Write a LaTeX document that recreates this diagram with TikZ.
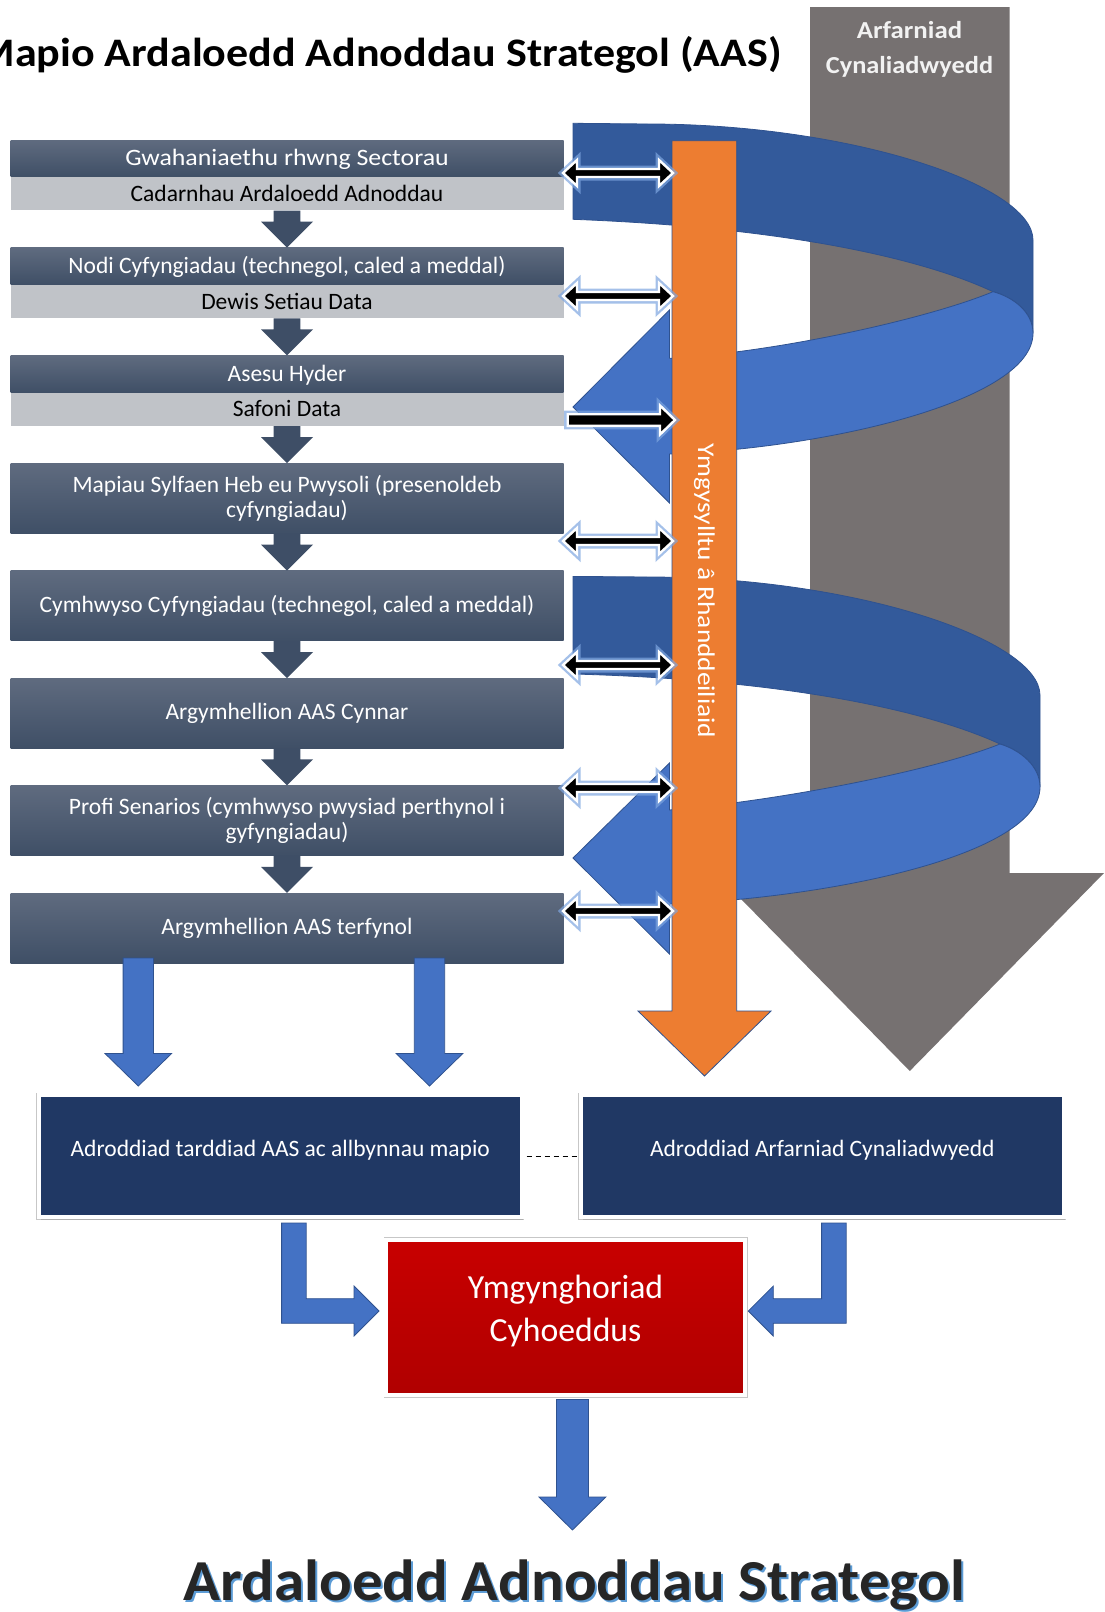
\documentclass[tikz,border=0pt]{standalone}
\usepackage{fontspec}
\setmainfont{Carlito}
\usetikzlibrary{calc,positioning,shadows}

\definecolor{slate}{HTML}{3F4F66}
\definecolor{slatetop}{HTML}{5F6B7F}
\definecolor{paleslate}{HTML}{C0C3C8}
\definecolor{stepblue}{HTML}{3E4E66}
\definecolor{ribbonback}{HTML}{335A9B}
\definecolor{ribbonfront}{HTML}{4472C4}
\definecolor{ribbonline}{HTML}{2F528F}
\definecolor{engage}{HTML}{ED7D31}
\definecolor{appraisal}{HTML}{767171}
\definecolor{navy}{HTML}{203864}
\definecolor{consultred}{HTML}{C80000}
\definecolor{consultdark}{HTML}{B00000}
\definecolor{glow}{HTML}{7EA6E0}
\definecolor{titlegrey}{HTML}{262626}
\definecolor{shadowblue}{HTML}{5B9BD5}

\def\stepfont{\fontsize{23.5}{25}\selectfont}
\def\mapfont{\bfseries\fontsize{40.5}{44}\selectfont}
\def\sidefont{\bfseries\fontsize{24.4}{35}\selectfont}
\def\aasfont{\bfseries\fontsize{58}{62}\selectfont}
\def\engagefont{\fontsize{24}{28}\selectfont}
\def\consfont{\fontsize{33.7}{43.4}\selectfont}
\def\wide#1#2{\scalebox{#1}[1]{#2}}

\def\blockdown[#1](#2)(#3)(#4:#5:#6){\draw[#1] let \p1=(#2), \p2=(#3) in (\x2-#4,\y1) -- (\x2+#4,\y1) -- (\x2+#4,\y2+#6) -- (\x2+#5,\y2+#6) -- (\x2,\y2) -- (\x2-#5,\y2+#6) -- (\x2-#4,\y2+#6) -- cycle;}
\def\twoway(#1)(#2){\draw[linkarrow] let \p1=(#1), \p2=(#2) in (\x1,\y1) -- (\x1+14,\y1+13) -- (\x1+14,\y1+4) -- (\x2-14,\y1+4) -- (\x2-14,\y1+13) -- (\x2,\y1) -- (\x2-14,\y1-13) -- (\x2-14,\y1-4) -- (\x1+14,\y1-4) -- (\x1+14,\y1-13) -- cycle;}
\def\oneway(#1)(#2){\draw[linkarrow] let \p1=(#1), \p2=(#2) in (\x1,\y1+5.8) -- (\x2-15,\y1+5.8) -- (\x2-15,\y1+14.5) -- (\x2,\y1) -- (\x2-15,\y1-14.5) -- (\x2-15,\y1-5.8) -- (\x1,\y1-5.8) -- cycle;}

\tikzset{
	steptop/.style={top color=slatetop, bottom color=slate, minimum width=553pt, minimum height=36.7pt, inner sep=0pt, text=white, font=\stepfont, text height=18pt, text depth=3pt},
	stepbottom/.style={fill=paleslate, minimum width=553pt, minimum height=33.3pt, inner sep=0pt, text=black, font=\stepfont, text height=18pt, text depth=3pt},
	stepbox/.style={top color=slatetop, bottom color=slate, minimum width=553pt, minimum height=70pt, inner sep=0pt, text=white, font=\stepfont, align=center},
	stepflow/.style={fill=stepblue, draw=none},
	flowblue/.style={fill=ribbonfront, draw=ribbonline, line width=0.8pt},
	ribbonrear/.style={fill=ribbonback, draw=ribbonline, line width=0.8pt},
	ribbonfore/.style={fill=ribbonfront, draw=ribbonline, line width=0.8pt},
	linkarrow/.style={fill=black, draw=white, line width=2.4pt, preaction={draw=glow, line width=7pt, opacity=0.7}},
	framed/.style={draw=white, line width=4pt, preaction={draw=black!22, line width=5.6pt}, drop shadow={opacity=0.35, shadow xshift=1.5pt, shadow yshift=-2.5pt}},
	report/.style={framed, fill=navy, minimum width=482.6pt, minimum height=121.7pt, text=white, font=\stepfont, text height=10pt, text depth=10pt},
	consult/.style={framed, top color=consultred, bottom color=consultdark, minimum width=358.4pt, minimum height=155pt}
}

\begin{document}
\begin{tikzpicture}[x=1pt, y=-1pt]
			%%%%% START %%%%%
			\fill[white] (0,0) rectangle (1104,1612);
			\useasboundingbox (0,0) rectangle (1104,1612);
			
			\fill[appraisal] (810,7) -- (1009.5,7) -- (1009.5,873) -- (1104,873) -- (909.8,1071) -- (715.5,873) -- (810,873) -- cycle;
			\node[font=\sidefont, text=white!95!black, align=center] (arf) at (909.5,49.1) {\wide{1.1}{Arfarniad}\\\wide{1.08}{Cynaliadwyedd}};
			
			\draw[ribbonrear] (573,123.3) -- (648,124) .. controls (850,124) and (1033,185) .. (1033,240) -- (1033,333.3) .. controls (1033,312) and (1013,297) .. (993,291.7) .. controls (930,262) and (800,228) .. (573,219.3) -- cycle;
			\draw[ribbonfore] (993,291.7) .. controls (930,318) and (780,352) .. (669.5,358.3) -- (669.5,310) -- (573,407) -- (669.5,503) -- (669.5,454) .. controls (830,448) and (1033,400) .. (1033,333.3) .. controls (1033,312) and (1013,297) .. (993,291.7) -- cycle;
			\draw[ribbonrear] (573,576.4) -- (648,577) .. controls (855,577) and (1040,640) .. (1040,695.3) -- (1040,787) .. controls (1040,766) and (1020,750) .. (1000,744) .. controls (935,714) and (800,680) .. (573,674) -- cycle;
			\draw[ribbonfore] (1000,744) .. controls (935,770) and (785,800) .. (669.5,810) -- (669.5,763) -- (573,858) -- (669.5,954) -- (669.5,904) .. controls (830,898) and (1040,855) .. (1040,787) .. controls (1040,766) and (1020,750) .. (1000,744) -- cycle;
			
			\draw[fill=engage, draw=ribbonline, line width=0.8pt] (672,140.7) -- (736.7,140.7) -- (736.7,1011) -- (771,1011) -- (704.5,1076) -- (638,1011) -- (672,1011) -- cycle;
			\node[rotate=-90, text=white, font=\engagefont] (engtext) at (704.5,591) {\wide{1.14}{Ymgysylltu â Rhanddeiliaid}};
			
			\node[steptop] (sep) at (287,158.35) {\wide{1.1}{Gwahaniaethu rhwng Sectorau}};
			\node[stepbottom, below=0pt of sep] (conf) {Cadarnhau Ardaloedd Adnoddau};
			\node[steptop, below=37pt of conf] (nodi) {Nodi Cyfyngiadau (technegol, caled a meddal)};
			\node[stepbottom, below=0pt of nodi] (dewis) {Dewis Setiau Data};
			\node[steptop, below=37pt of dewis] (asesu) {Asesu Hyder};
			\node[stepbottom, below=0pt of asesu] (safoni) {Safoni Data};
			\node[stepbox, below=37pt of safoni] (mapiau) {Mapiau Sylfaen Heb eu Pwysoli (presenoldeb\\cyfyngiadau)};
			\node[stepbox, below=37pt of mapiau] (cymh) {Cymhwyso Cyfyngiadau (technegol, caled a meddal)};
			\node[stepbox, below=37pt of cymh] (cynnar) {Argymhellion AAS Cynnar};
			\node[stepbox, below=37pt of cynnar] (profi) {Profi Senarios (cymhwyso pwysiad perthynol i\\gyfyngiadau)};
			\node[stepbox, below=37pt of profi] (terf) {Argymhellion AAS terfynol};
			
			\foreach \a/\b in {conf/nodi, dewis/asesu, safoni/mapiau, mapiau/cymh, cymh/cynnar, cynnar/profi, profi/terf}
				{\blockdown[stepflow](\a.south)(\b.north)(13.4:26:26)}
			
			\foreach \row/\ly in {1/173, 2/296, 4/541, 5/665, 6/788, 7/911}{
				\coordinate (lk\row) at (563,\ly);
				\coordinate (lr\row) at (673,\ly);
				\twoway(lk\row)(lr\row)}
			\coordinate (lk3) at (567.7,420);
			\coordinate (lr3) at (675,420);
			\oneway(lk3)(lr3)
			
			\node[anchor=base east, font=\mapfont] (maptitle) at (785,66.7) {\wide{1.087}{Mapio Ardaloedd Adnoddau Strategol (AAS)}};
			
			\node[report] (repL) at (280.3,1156.2) {Adroddiad tarddiad AAS ac allbynnau mapio};
			\node[report] (repR) at (822.3,1156.2) {Adroddiad Arfarniad Cynaliadwyedd};
			\draw[line width=1.2pt, dash pattern=on 5pt off 4pt, shorten <=3pt, shorten >=2pt] (repL.east) -- (repR.west);
			
			\coordinate (f1) at (138.3,958);
			\coordinate (t1) at (138.3,1086);
			\coordinate (f2) at (429.5,958);
			\coordinate (t2) at (429.5,1086);
			\blockdown[flowblue](f1)(t1)(15.2:33.3:32.5)
			\blockdown[flowblue](f2)(t2)(15.2:33.3:32.5)
			
			\node[consult] (cons) at (565.5,1317.2) {};
			\node[text=white, font=\consfont, align=center] (constext) at ([yshift=6.5pt]cons.center) {Ymgynghoriad\\Cyhoeddus};
			
			\coordinate (lb1) at (293.9,1223);
			\coordinate (lb2) at (379,1311);
			\coordinate (rb1) at (833.9,1223);
			\coordinate (rb2) at (748.3,1311);
			\draw[flowblue] let \p1=(lb1), \p2=(lb2) in (\x1-12.3,\y1) -- (\x1+12.3,\y1) -- (\x1+12.3,\y2+12.3) -- (\x2-25,\y2+12.3) -- (\x2-25,\y2+25) -- (\x2,\y2) -- (\x2-25,\y2-25) -- (\x2-25,\y2-12.3) -- (\x1-12.3,\y2-12.3) -- cycle;
			\draw[flowblue] let \p1=(rb1), \p2=(rb2) in (\x1+12.3,\y1) -- (\x1-12.3,\y1) -- (\x1-12.3,\y2+12.3) -- (\x2+25,\y2+12.3) -- (\x2+25,\y2+25) -- (\x2,\y2) -- (\x2+25,\y2-25) -- (\x2+25,\y2-12.3) -- (\x1+12.3,\y2-12.3) -- cycle;
			
			\coordinate (outTop) at (572.4,1399.4);
			\coordinate (outTip) at (572.4,1530);
			\blockdown[flowblue](outTop)(outTip)(16:33.4:33)
			
			\node[anchor=base, text=shadowblue, font=\aasfont] (aasshade) at (576.5,1602) {\wide{1.05}{Ardaloedd Adnoddau Strategol}};
			\node[anchor=base, text=titlegrey, font=\aasfont] (aas) at (574.5,1600) {\wide{1.05}{Ardaloedd Adnoddau Strategol}};
			%%%%% END %%%%%
\end{tikzpicture}
\end{document}
